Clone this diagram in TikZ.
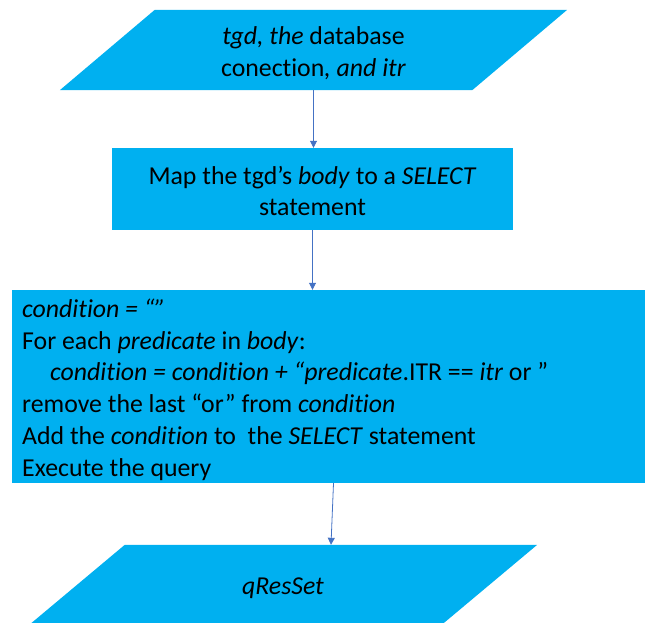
\documentclass[tikz,border=0pt]{standalone}
\usepackage{fontspec}
\setmainfont{Carlito}[RawFeature={-liga;-clig}]
\usetikzlibrary{arrows.meta,calc,backgrounds}
\definecolor{boxfill}{HTML}{00B0F0}
\definecolor{flowline}{HTML}{4472C4}

% parallelogram (data box) drawn round a named core node, slanted by #2
\newcommand\ioslant[2]{%
  \begin{scope}[on background layer]
    \fill[boxfill] ([xshift=-#2]#1.south west) -- ([xshift=-#2]#1.south east)
      -- ([xshift=#2]#1.north east) -- ([xshift=#2]#1.north west) -- cycle;
  \end{scope}}

\begin{document}
\begin{tikzpicture}[x=1pt,y=-1pt,
  every node/.style={font=\fontsize{25.8}{31.8}\selectfont, text=black},
  iocore/.style={rectangle, inner sep=0pt, minimum width=412pt, minimum height=80pt},
  procbox/.style={rectangle, fill=boxfill, inner sep=0pt},
  boxtext/.style={inner sep=0pt, align=center},
  flow/.style={draw=flowline, line width=0.8pt, -{Triangle[length=7pt,width=7pt]}}]
  \clip (0,0) rectangle (645,622);

  % input parallelogram
  \node[iocore] (inp) at (313.5,50) {};
  \ioslant{inp}{47.5pt}
  \node[boxtext] (inptext) at ([yshift=-3pt]inp.center)
    {\textit{tgd, the} database\\conection\textit{, and itr}};
  % mapping step
  \node[procbox, minimum width=401pt, minimum height=82pt] (map) at (312.5,189) {};
  \node[boxtext] (maptext) at ([yshift=-2pt]map.center)
    {Map the tgd’s \textit{body} to a \textit{SELECT}\\statement};
  % condition building step
  \node[procbox, minimum width=643pt, minimum height=193pt] (loop) at (333.5,386.5) {};
  \node[anchor=west, align=left, inner sep=0pt] (code) at (22,389.5)
    {\textit{condition = “”}\\
     For each \textit{predicate} in \textit{body}:\\
     \hspace*{28pt}\textit{condition = condition + “predicate}.ITR == \textit{itr} or ”\\
     remove the last “or” from \textit{condition}\\
     Add the \textit{condition} to~ the \textit{SELECT} statement\\
     Execute the query};
  % output parallelogram
  \node[iocore] (res) at (283,585) {};
  \ioslant{res}{48pt}
  \node[boxtext] (restext) at ([yshift=-3pt]res.center) {\textit{qResSet}};

  \draw[flow] (inp.south) -- (inp.south |- map.north);
  \draw[flow] (map.south) -- (map.south |- loop.north);
  \draw[flow] (loop.south) -- ([xshift=48pt]res.north);
\end{tikzpicture}
\end{document}
